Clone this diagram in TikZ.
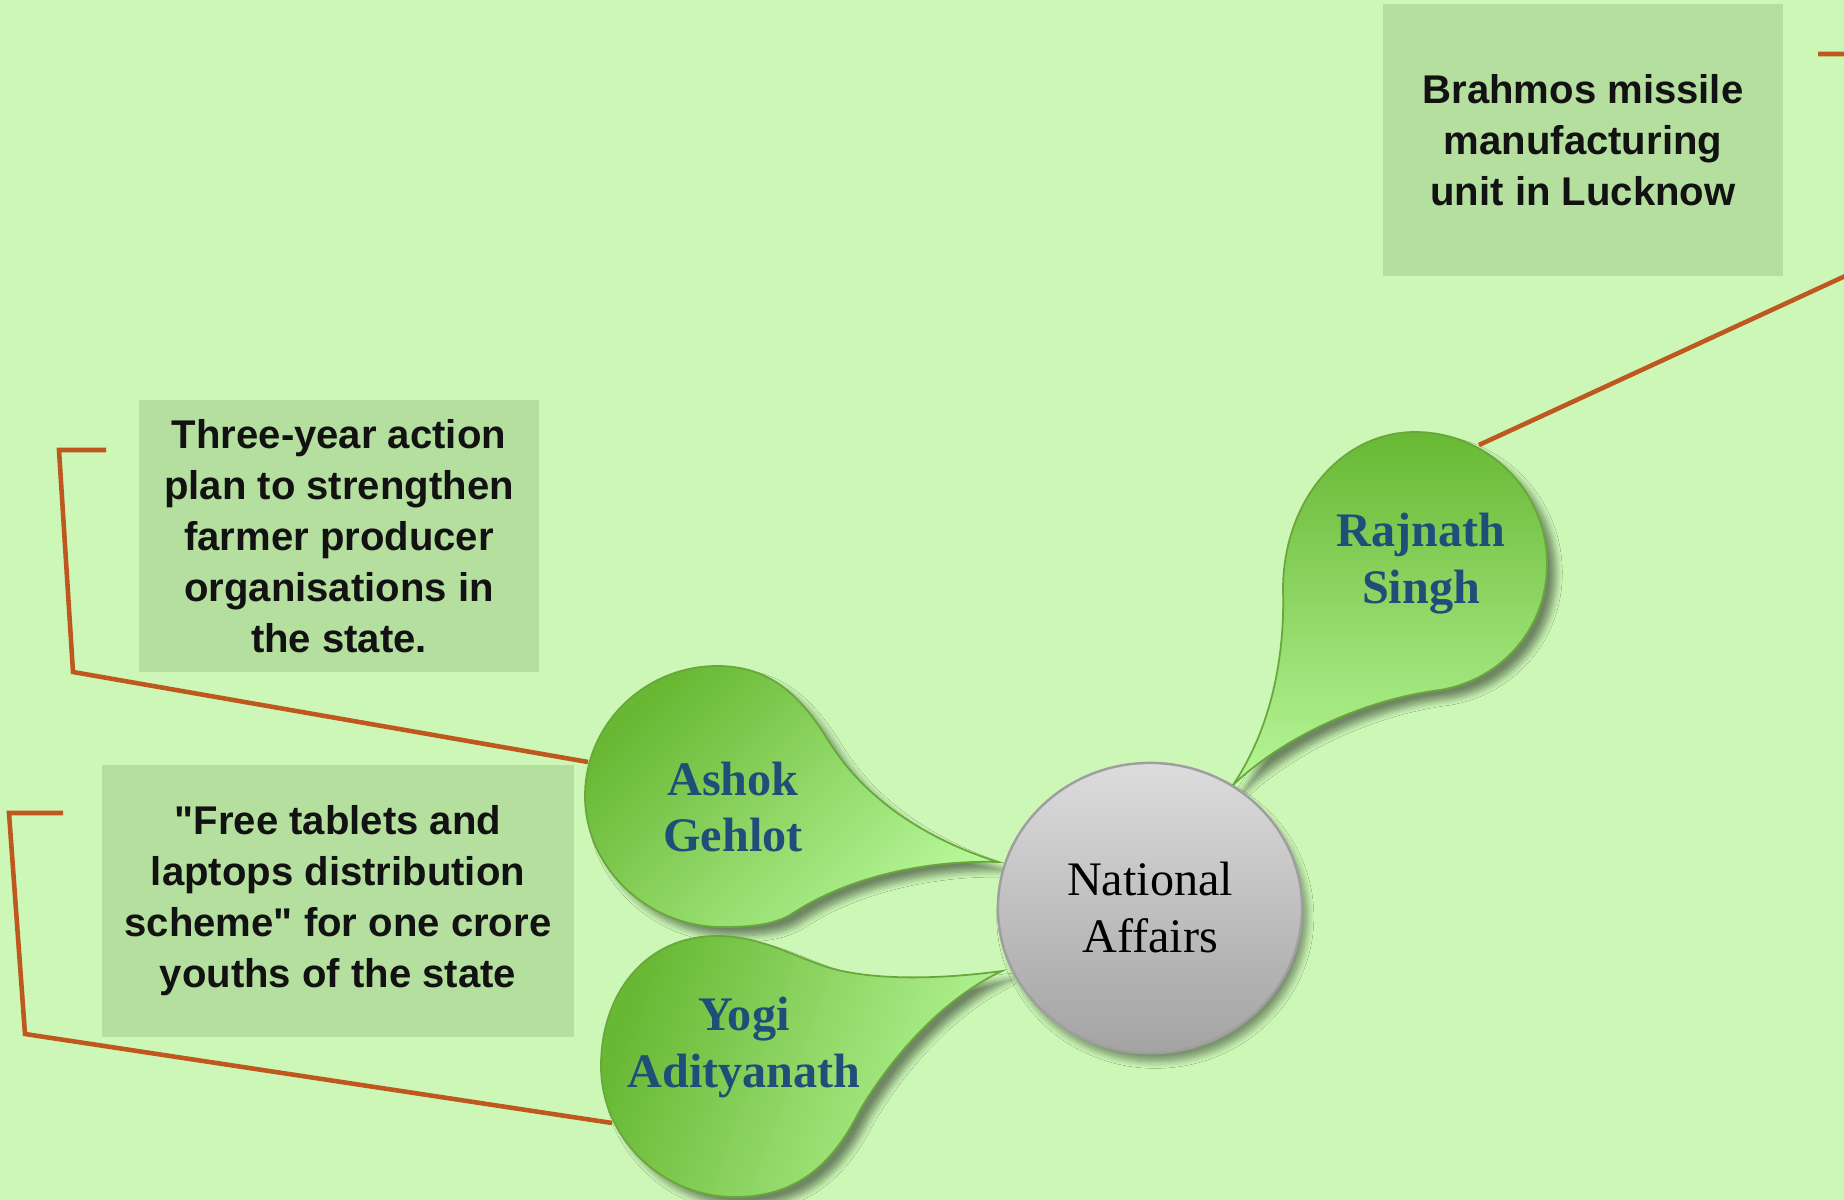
\documentclass[tikz,border=0pt]{standalone}
\usepackage{fontspec}
\setmainfont{Liberation Serif}
\newfontfamily\notefont{Liberation Sans}
\usepackage{xcolor}
\usetikzlibrary{shapes.geometric,shadows.blur}
\definecolor{bg}{RGB}{204,247,182}
\definecolor{notebg}{RGB}{181,223,158}
\definecolor{leafdark}{RGB}{104,184,52}
\definecolor{leaflight}{RGB}{182,246,152}
\definecolor{leafline}{RGB}{104,168,58}
\definecolor{namecol}{RGB}{31,78,121}
\definecolor{rust}{RGB}{190,88,30}
\definecolor{hubtop}{RGB}{220,220,220}
\definecolor{hubbot}{RGB}{163,163,163}
\begin{document}
\begin{tikzpicture}
            [x=0.01cm,y=-0.01cm,
             note/.style={fill=notebg,minimum width=4cm,minimum height=2.72cm,align=center,
                          font=\notefont\bfseries\fontsize{11.4}{14.5}\selectfont,text=black!93},
             leaf/.style={draw=leafline,line width=0.5pt,
                          blur shadow={shadow xshift=2.5pt,shadow yshift=-2.5pt,shadow blur steps=8,shadow opacity=45}},
             leader/.style={align=center,text=namecol,font=\bfseries\fontsize{13.7}{16.2}\selectfont},
             hub/.style={ellipse,draw=gray!75,line width=0.7pt,minimum width=3.04cm,minimum height=2.9cm,
                         top color=hubtop,bottom color=hubbot,align=center,font=\fontsize{13.7}{16.2}\selectfont,
                         blur shadow={shadow xshift=1.5pt,shadow yshift=-2.5pt,shadow blur steps=8,shadow opacity=40}},
             link/.style={draw=rust,line width=1.3pt}]
            \clip (0,0) rectangle (1844,1200);
            \fill[bg] (0,0) rectangle (1844,1200);
            \node[note] (brahmos) at (1583,140) {Brahmos missile\\manufacturing\\unit in Lucknow};
            \node[note] (fpo) at (339,536) {Three-year action\\plan to strengthen\\farmer producer\\organisations in\\the state.};
            \node[note,minimum width=4.71cm] (tabs) at (338,901) {"Free tablets and\\laptops distribution\\scheme" for one crore\\youths of the state};
            \coordinate (rajR) at (1479,445);
            \coordinate (brahmosT) at (1818,54);
            \coordinate (ashokL) at (588,762);
            \coordinate (fpoT) at (106,450);
            \coordinate (yogiL) at (612,1123);
            \coordinate (tabsT) at (63,813);
            \draw[link] (rajR) -- (1880,260) -- (1880,54) -- (brahmosT);
            \draw[link] (ashokL) -- (73,672) -- (59,450) -- (fpoT);
            \draw[link] (yogiL) -- (25,1034) -- (9,813) -- (tabsT);
            \draw[leaf,top color=leafdark,bottom color=leaflight]
              (1233,785) .. controls (1270,730) and (1285,660) .. (1283,590)
              .. controls (1283,500) and (1342,432) .. (1415,432)
              .. controls (1488,432) and (1547,491) .. (1547,564)
              .. controls (1547,630) and (1500,680) .. (1440,690)
              .. controls (1360,700) and (1280,740) .. (1233,785) -- cycle;
            \draw[leaf,top color=leafdark,bottom color=leaflight,shading angle=45]
              (717,666) .. controls (770,666) and (800,695) .. (828,740)
              .. controls (868,805) and (935,842) .. (998,862)
              .. controls (930,860) and (850,875) .. (790,915)
              .. controls (772,925) and (750,927) .. (722,927)
              .. controls (648,927) and (585,868) .. (585,796)
              .. controls (585,724) and (645,666) .. (717,666) -- cycle;
            \draw[leaf,top color=leafdark,bottom color=leaflight,shading angle=70]
              (717,936) .. controls (760,936) and (790,955) .. (830,968)
              .. controls (880,982) and (950,978) .. (1002,971)
              .. controls (940,1000) and (890,1060) .. (860,1110)
              .. controls (835,1160) and (800,1197) .. (735,1197)
              .. controls (662,1197) and (601,1138) .. (601,1066)
              .. controls (601,994) and (645,936) .. (717,936) -- cycle;
            \node[leader] (rajnath) at (1421,564) {Rajnath\\Singh};
            \node[leader] (ashok) at (733,807) {Ashok\\Gehlot};
            \node[leader] (yogi) at (744,1047) {Yogi\\Adityanath};
            \node[hub] (national) at (1150,908) {National\\Affairs};
\end{tikzpicture}
\end{document}
